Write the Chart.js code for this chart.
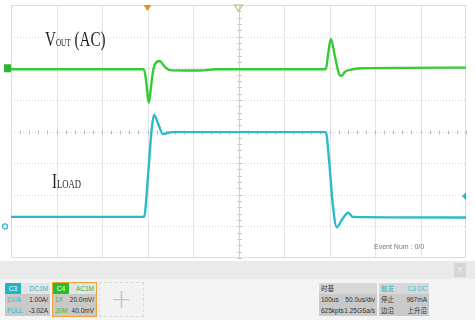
<!DOCTYPE html>
<html>
<head>
<meta charset="utf-8">
<script src="https://cdn.jsdelivr.net/npm/chart.js@4.4.1/dist/chart.umd.min.js"></script>
<style>
  html,body{margin:0;padding:0;background:#fff;}
  #wrap{position:relative;width:475px;height:320px;overflow:hidden;background:#fff;font-family:"Liberation Sans",Arial,sans-serif;}
  #cw{position:absolute;left:0;top:0;width:475px;height:261px;}
  .lbl{position:absolute;font-family:"Liberation Serif","Times New Roman",serif;color:#1e1e1e;transform:scaleX(0.72);transform-origin:0 0;white-space:nowrap;line-height:1;}
  #band{position:absolute;left:0;top:261px;width:475px;height:18px;background:#eaeaea;}
  #lower{position:absolute;left:0;top:279px;width:475px;height:41px;background:#f4f4f4;}
  .box{position:absolute;top:283px;height:33px;font-size:6.5px;color:#333;font-family:"Liberation Sans","Noto Sans CJK SC",sans-serif;}
  .row{height:11px;line-height:11px;position:relative;padding:0 2px;white-space:nowrap;}
  .row .r{position:absolute;right:2px;top:0;}
  .hd{background:#e4e4e4;}
  .gr{background:#c9c9c9;}
  .tag{display:inline-block;height:11px;color:#fff;text-align:center;margin-left:-2px;width:16px;}
  #evt{position:absolute;left:374px;top:243px;font-size:7px;color:#777;font-family:"Liberation Sans",Arial,sans-serif;}
  #xbtn{position:absolute;left:454px;top:263px;width:12px;height:14px;background:#d5d5d5;color:#eee;font-size:12px;line-height:14px;text-align:center;}
</style>
</head>
<body>
<div id="wrap">
  <div id="cw"><canvas id="c"></canvas></div>
  <div class="lbl" style="left:45px;top:29px;font-size:21px;">V<span style="font-size:10px;">OUT</span> (AC)</div>
  <div class="lbl" style="left:52px;top:171px;font-size:21px;">I<span style="font-size:12px;">LOAD</span></div>
  <div id="evt">Event Num : 0/0</div>
  <div id="band"></div>
  <div id="lower"></div>
  <div id="xbtn">×</div>

  <div class="box" style="left:5px;width:45px;">
    <div class="row hd"><span class="tag" style="background:#1fb5c5;">C3</span><span class="r" style="color:#2ab8c8;">DC1M</span></div>
    <div class="row gr"><span style="color:#2ab8c8;">1V/A</span><span class="r">1.00A/</span></div>
    <div class="row gr"><span style="color:#2ab8c8;">FULL</span><span class="r">-3.02A</span></div>
  </div>
  <div class="box" style="left:52px;width:43px;border:1px solid #f0a040;top:282px;">
    <div class="row hd"><span class="tag" style="background:#22c02a;">C4</span><span class="r" style="color:#2cc02c;">AC1M</span></div>
    <div class="row gr"><span style="color:#2cc02c;">1X</span><span class="r">20.0mV/</span></div>
    <div class="row gr"><span style="color:#2cc02c;">20M</span><span class="r">40.0mV</span></div>
  </div>
  <div class="box" style="left:99px;width:43px;border:1px dashed #dadada;top:282px;background:#f2f2f2;text-align:center;">
    <div style="font-size:26px;line-height:32px;color:#c4c4c4;font-weight:100;font-family:'DejaVu Sans',sans-serif;">+</div>
  </div>
  <div class="box" style="left:319px;width:58px;">
    <div class="row hd" style="background:#d8d8d8;">时基</div>
    <div class="row gr"><span>100us</span><span class="r">50.0us/div</span></div>
    <div class="row gr"><span>625kpts</span><span class="r">1.25GSa/s</span></div>
  </div>
  <div class="box" style="left:379px;width:50px;">
    <div class="row hd" style="background:#d8d8d8;"><span style="color:#2ab8c8;">触发</span><span class="r" style="color:#3cc6d6;">C3 DC</span></div>
    <div class="row gr"><span>停止</span><span class="r">967mA</span></div>
    <div class="row gr"><span>边沿</span><span class="r">上升沿</span></div>
  </div>
</div>
<script>
// ---- data (time in divisions, value in divisions) ----
const voutTime  = [0, 2.92, 2.97, 3.01, 3.03, 3.06, 3.11, 3.16, 3.27, 3.34, 3.40, 3.49, 3.80, 4.15, 4.50, 6.92, 6.97, 7.03, 7.12, 7.22, 7.27, 7.34, 7.45, 7.70, 10];
const voutValue = [1.97, 1.97, 1.60, 1.05, 0.91, 1.20, 1.80, 2.12, 2.23, 2.12, 2.02, 1.94, 1.93, 1.93, 1.97, 1.97, 2.45, 2.93, 2.37, 1.79, 1.76, 1.89, 1.95, 2.00, 2.02];
const iloadTime  = [0, 2.925, 3.01, 3.09, 3.145, 3.23, 3.34, 3.45, 3.56, 6.92, 6.99, 7.07, 7.16, 7.27, 7.41, 7.51, 10];
const iloadValue = [-2.70, -2.70, -1.43, 0.05, 0.52, 0.26, -0.08, -0.04, -0.02, -0.02, -0.90, -2.27, -3.03, -2.80, -2.57, -2.70, -2.72];
const xDivisions = 10, yDivisions = 8;
const voutOffset = 2, iloadOffset = -3, trigLevel = -2.05, trigPos = 3;

const toXY = (t, v) => t.map((x, i) => ({x, y: v[i]}));

const scopeGrid = {
  id: 'scopeGrid',
  beforeDatasetsDraw(chart) {
    const {ctx, chartArea: a, scales: {x, y}} = chart;
    ctx.save();
    ctx.fillStyle = '#fff';
    ctx.fillRect(a.left, a.top, a.right - a.left, a.bottom - a.top);
    ctx.lineWidth = 1;
    ctx.strokeStyle = '#e3e3e3';
    for (let i = 1; i < xDivisions; i++) {
      const px = Math.round(x.getPixelForValue(i)) + 0.5;
      ctx.beginPath(); ctx.moveTo(px, a.top); ctx.lineTo(px, a.bottom); ctx.stroke();
    }
    ctx.strokeStyle = '#d4d4d4';
    ctx.setLineDash([1, 2]);
    for (let j = -3; j <= 3; j++) {
      const py = Math.round(y.getPixelForValue(j)) + 0.5;
      ctx.beginPath(); ctx.moveTo(a.left, py); ctx.lineTo(a.right, py); ctx.stroke();
    }
    ctx.setLineDash([]);
    ctx.strokeStyle = '#bdbdbd';
    const cx = Math.round(x.getPixelForValue(5)) + 0.5, cy = Math.round(y.getPixelForValue(0)) + 0.5;
    for (let k = 0; k <= xDivisions * 5; k++) {
      const px = Math.round(x.getPixelForValue(k / 5)) + 0.5;
      ctx.beginPath(); ctx.moveTo(px, cy - 2); ctx.lineTo(px, cy + 2); ctx.stroke();
    }
    for (let k = -20; k <= 20; k++) {
      const py = Math.round(y.getPixelForValue(k / 5)) + 0.5;
      ctx.beginPath(); ctx.moveTo(cx - 2, py); ctx.lineTo(cx + 2, py); ctx.stroke();
    }
    ctx.strokeStyle = '#d0d0d0';
    ctx.beginPath(); ctx.moveTo(cx, a.top); ctx.lineTo(cx, a.bottom); ctx.stroke();
    ctx.strokeStyle = '#dcdcdc';
    ctx.strokeRect(a.left + 0.5, a.top + 0.5, a.right - a.left - 1, a.bottom - a.top - 1);
    ctx.restore();
  },
  afterDatasetsDraw(chart) {
    const {ctx, chartArea: a, scales: {x, y}} = chart;
    ctx.save();
    const tx = x.getPixelForValue(trigPos);
    ctx.fillStyle = '#f08a24';
    ctx.beginPath(); ctx.moveTo(tx - 4, a.top); ctx.lineTo(tx + 4, a.top); ctx.lineTo(tx, a.top + 6); ctx.closePath(); ctx.fill();
    const mx = x.getPixelForValue(5);
    ctx.strokeStyle = '#b9bc80'; ctx.lineWidth = 1.2;
    ctx.beginPath(); ctx.moveTo(mx - 4, a.top); ctx.lineTo(mx + 4, a.top); ctx.lineTo(mx, a.top + 6); ctx.closePath(); ctx.stroke();
    const vy = y.getPixelForValue(voutOffset);
    ctx.fillStyle = '#2fb52f';
    ctx.fillRect(a.left - 7, vy - 4, 7, 8);
    const iy = y.getPixelForValue(iloadOffset);
    ctx.strokeStyle = '#2ab9c9'; ctx.lineWidth = 1.3;
    ctx.beginPath(); ctx.arc(a.left - 6, iy, 2.5, 0, Math.PI * 2); ctx.stroke();
    const ly = y.getPixelForValue(trigLevel);
    ctx.fillStyle = '#22b8c6';
    ctx.beginPath(); ctx.moveTo(a.right, ly - 4); ctx.lineTo(a.right, ly + 4); ctx.lineTo(a.right - 4, ly); ctx.closePath(); ctx.fill();
    ctx.restore();
  }
};

new Chart(document.getElementById('c'), {
  type: 'line',
  data: {
    datasets: [
      {label: 'VOUT (AC)', data: toXY(voutTime, voutValue), borderColor: '#34cc34', borderWidth: 2.4, pointRadius: 0, tension: 0.35, cubicInterpolationMode: 'monotone'},
      {label: 'ILOAD', data: toXY(iloadTime, iloadValue), borderColor: '#2bbac9', borderWidth: 2.4, pointRadius: 0, tension: 0.35, cubicInterpolationMode: 'monotone'}
    ]
  },
  options: {
    responsive: true, maintainAspectRatio: false, animation: false,
    layout: {padding: {left: 11, right: 9, top: 5, bottom: 3}},
    scales: {
      x: {type: 'linear', min: 0, max: xDivisions, display: false},
      y: {type: 'linear', min: -yDivisions / 2, max: yDivisions / 2, display: false}
    },
    plugins: {legend: {display: false}, tooltip: {enabled: false}}
  },
  plugins: [scopeGrid]
});
</script>
</body>
</html>
